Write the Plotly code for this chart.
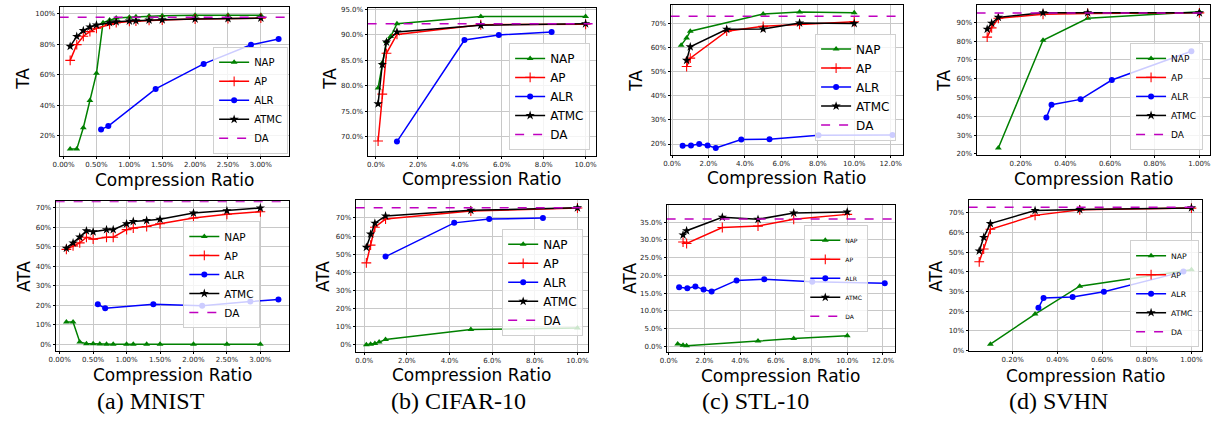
import plotly.graph_objects as go

W, H = 1213, 433

# ---------------- data (compression ratio in %, accuracy in %) ----------------
# MNIST
mn_nap_x = [0.1, 0.2, 0.3, 0.4, 0.5, 0.6, 0.7, 0.8, 1.0, 1.1, 1.3, 1.5, 2.0, 2.5, 3.0]
mn_nap_ta = [11.4, 11.4, 25.4, 43.2, 61.0, 94.2, 95.9, 97.3, 97.8, 98.0, 98.5, 98.7, 99.0, 99.1, 99.1]
mn_nap_ata = [11.4, 11.4, 1.2, 0.3, 0.3, 0.1, 0.0, 0.0, 0.0, 0.0, 0.0, 0.0, 0.0, 0.0, 0.0]
mn_x = [0.1, 0.2, 0.3, 0.4, 0.5, 0.7, 0.8, 1.0, 1.1, 1.3, 1.5, 2.0, 2.5, 3.0]
mn_ap_ta = [69.5, 79.8, 85.3, 88.3, 90.5, 93.1, 94.2, 95.0, 95.2, 95.7, 95.9, 96.6, 96.9, 97.2]
mn_atmc_ta = [78.7, 85.2, 89.0, 91.4, 92.7, 94.2, 94.8, 95.3, 95.5, 95.9, 96.1, 96.6, 96.9, 97.2]
mn_ap_ata = [48.7, 50.5, 52.0, 54.9, 53.9, 54.9, 54.9, 58.8, 59.6, 60.4, 61.8, 64.8, 66.7, 68.0]
mn_atmc_ata = [49.3, 52.0, 55.0, 58.2, 57.7, 58.8, 58.8, 61.8, 63.0, 63.5, 64.1, 67.3, 68.5, 69.9]
mn_alr_x = [0.57, 0.68, 1.40, 2.13, 2.85, 3.27]
mn_alr_ta = [24.3, 26.5, 50.8, 67.2, 79.7, 83.5]
mn_alr_ata = [20.5, 18.5, 20.5, 19.7, 21.9, 23.0]
mn_da_ta = 97.7
mn_da_ata = 73.2

# CIFAR-10
cf_nap_x = [0.1, 0.3, 0.5, 0.7, 1.0, 5.0, 10.0]
cf_nap_ta = [79.6, 84.5, 88.7, 89.7, 92.2, 93.6, 93.6]
cf_nap_ata = [0.0, 0.3, 0.8, 1.5, 2.9, 8.4, 9.3]
cf_x = [0.1, 0.3, 0.5, 1.0, 5.0, 10.0]
cf_ap_ta = [69.2, 78.4, 86.4, 90.1, 92.0, 92.1]
cf_atmc_ta = [76.5, 84.2, 88.6, 90.6, 91.9, 92.2]
cf_ap_ata = [45.2, 55.0, 64.9, 69.4, 73.8, 75.5]
cf_atmc_ata = [53.8, 61.1, 67.1, 71.1, 74.2, 75.6]
cf_alr_x = [1.0, 4.22, 5.86, 8.38]
cf_alr_ta = [69.1, 89.0, 90.0, 90.6]
cf_alr_ata = [48.7, 67.3, 69.4, 70.0]
cf_da_ta = 92.2
cf_da_ata = 75.7

# STL-10
st_nap_x = [0.5, 0.8, 1.0, 5.0, 7.0, 10.0]
st_nap_ta = [61.1, 64.1, 66.9, 74.0, 74.9, 74.6]
st_nap_ata = [0.7, 0.3, 0.2, 1.5, 2.2, 3.0]
st_x = [0.8, 1.0, 3.0, 5.0, 7.0, 10.0]
st_ap_ta = [52.2, 55.7, 66.9, 68.9, 69.7, 70.8]
st_atmc_ta = [54.8, 60.4, 67.7, 67.8, 70.3, 70.1]
st_ap_ata = [29.4, 29.0, 33.5, 33.9, 35.8, 37.2]
st_atmc_ata = [31.4, 32.6, 36.4, 35.8, 37.6, 37.9]
st_alr_x = [0.58, 1.04, 1.49, 1.95, 2.4, 3.8, 5.35, 8.04, 12.1]
st_alr_ta = [19.3, 19.4, 20.0, 19.4, 18.4, 21.9, 22.0, 23.6, 23.7]
st_alr_ata = [16.7, 16.4, 16.9, 16.0, 15.5, 18.6, 18.9, 18.2, 17.8]
st_da_ta = 73.1
st_da_ata = 35.9

# SVHN
sv_nap_x = [0.1, 0.3, 0.5, 1.0]
sv_nap_ta = [23.1, 80.4, 92.1, 95.6]
sv_nap_ata = [3.2, 18.5, 32.7, 41.1]
sv_x = [0.05, 0.07, 0.1, 0.3, 0.5, 1.0]
sv_ap_ta = [82.1, 87.0, 92.1, 94.2, 94.7, 95.0]
sv_atmc_ta = [86.3, 89.5, 92.6, 95.1, 95.1, 95.0]
sv_ap_ata = [45.1, 51.6, 61.6, 68.7, 71.5, 72.4]
sv_atmc_ata = [50.6, 57.5, 64.5, 71.2, 71.7, 72.5]
sv_alr_x = [0.315, 0.338, 0.468, 0.608, 0.964]
sv_alr_ta = [39.4, 46.2, 49.0, 59.3, 74.6]
sv_alr_ata = [21.7, 26.7, 27.2, 29.9, 40.1]
sv_da_ta = 94.9
sv_da_ata = 72.8

series_names = ["NAP", "AP", "ALR", "ATMC", "DA"]
captions = ["(a) MNIST", "(b) CIFAR-10", "(c) STL-10", "(d) SVHN"]

# ---------------- styling ----------------
COL = {"NAP": "#008000", "AP": "#ff0000", "ALR": "#0000ff", "ATMC": "#000000", "DA": "#bf00bf"}
MK = {
    "NAP": dict(symbol="triangle-up", size=6, color=COL["NAP"]),
    "AP": dict(symbol="cross-thin", size=7, color=COL["AP"], line=dict(width=1.1, color=COL["AP"])),
    "ALR": dict(symbol="circle", size=6, color=COL["ALR"]),
    "ATMC": dict(symbol="star", size=7, color=COL["ATMC"]),
}

panels = [
    # MNIST TA
    dict(box=(53, 5, 284, 156), xr=[-0.06, 3.43], yr=[7, 104.5], dx=0.5, xf=".2f", dy=20, yf="d",
         data={"NAP": (mn_nap_x, mn_nap_ta), "AP": (mn_x, mn_ap_ta), "ALR": (mn_alr_x, mn_alr_ta),
               "ATMC": (mn_x, mn_atmc_ta)}, da=mn_da_ta, ylab="TA", ylab_xy=(16, 78), xlab_y=180,
         leg=dict(x=283, y=154, xa="right", ya="bottom", fs=10)),
    # MNIST ATA
    dict(box=(49, 202, 284, 354), xr=[-0.06, 3.43], yr=[-3.5, 73.4], dx=0.5, xf=".2f", dy=10, yf="d",
         data={"NAP": (mn_nap_x, mn_nap_ata), "AP": (mn_x, mn_ap_ata), "ALR": (mn_alr_x, mn_alr_ata),
               "ATMC": (mn_x, mn_atmc_ata)}, da=mn_da_ata, ylab="ATA", ylab_xy=(17, 278), xlab_y=378,
         leg=dict(x=255, y=222, xa="right", ya="top", fs=10.5)),
    # CIFAR TA
    dict(box=(363, 6, 593, 156), xr=[-0.4, 10.5], yr=[66.3, 95.3], dx=2, xf=".1f", dy=5, yf=".1f",
         data={"NAP": (cf_nap_x, cf_nap_ta), "AP": (cf_x, cf_ap_ta), "ALR": (cf_alr_x, cf_alr_ta),
               "ATMC": (cf_x, cf_atmc_ta)}, da=cf_da_ta, ylab="TA", ylab_xy=(325, 78), xlab_y=179,
         leg=dict(x=587, y=150, xa="right", ya="bottom", fs=12)),
    # CIFAR ATA
    dict(box=(351, 201, 585, 355), xr=[-0.4, 10.5], yr=[-4, 79.8], dx=2, xf=".1f", dy=10, yf="d",
         data={"NAP": (cf_nap_x, cf_nap_ata), "AP": (cf_x, cf_ap_ata), "ALR": (cf_alr_x, cf_alr_ata),
               "ATMC": (cf_x, cf_atmc_ata)}, da=cf_da_ata, ylab="ATA", ylab_xy=(318, 278), xlab_y=378,
         leg=dict(x=580, y=230, xa="right", ya="top", fs=12)),
    # STL TA
    dict(box=(668, 3, 902, 155), xr=[-0.08, 12.68], yr=[15.5, 77.8], dx=2, xf=".1f", dy=10, yf="d",
         data={"NAP": (st_nap_x, st_nap_ta), "AP": (st_x, st_ap_ta), "ALR": (st_alr_x, st_alr_ta),
               "ATMC": (st_x, st_atmc_ta)}, da=st_da_ta, ylab="TA", ylab_xy=(633, 80), xlab_y=178,
         leg=dict(x=895, y=32, xa="right", ya="top", fs=12)),
    # STL ATA
    dict(box=(664, 206, 894, 355), xr=[-0.12, 12.68], yr=[-1.6, 39.8], dx=2, xf=".1f", dy=5, yf=".1f",
         data={"NAP": (st_nap_x, st_nap_ata), "AP": (st_x, st_ap_ata), "ALR": (st_alr_x, st_alr_ata),
               "ATMC": (st_x, st_atmc_ata)}, da=st_da_ata, ylab="ATA", ylab_xy=(627, 280), xlab_y=379,
         leg=dict(x=867, y=226, xa="right", ya="top", fs=6)),
    # SVHN TA
    dict(box=(976, 3, 1211, 155), xr=[0.0025, 1.0475], yr=[19.5, 99.2], dx=0.2, xf=".2f", dy=10, yf="d",
         data={"NAP": (sv_nap_x, sv_nap_ta), "AP": (sv_x, sv_ap_ta), "ALR": (sv_alr_x, sv_alr_ta),
               "ATMC": (sv_x, sv_atmc_ta)}, da=sv_da_ta, ylab="TA", ylab_xy=(943, 80), xlab_y=179,
         leg=dict(x=1204, y=150, xa="right", ya="bottom", fs=9)),
    # SVHN ATA
    dict(box=(968, 201, 1203, 354), xr=[0.0025, 1.0475], yr=[-0.3, 76.4], dx=0.2, xf=".2f", dy=10, yf="d",
         data={"NAP": (sv_nap_x, sv_nap_ata), "AP": (sv_x, sv_ap_ata), "ALR": (sv_alr_x, sv_alr_ata),
               "ATMC": (sv_x, sv_atmc_ata)}, da=sv_da_ata, ylab="ATA", ylab_xy=(935, 278), xlab_y=379,
         leg=dict(x=1200, y=350, xa="right", ya="bottom", fs=7.7)),
]

caption_x = [145, 455, 753, 1058]
caption_y = 405

fig = go.Figure()
layout = dict(
    width=W, height=H, margin=dict(l=0, r=0, t=0, b=0),
    paper_bgcolor="white", plot_bgcolor="white", showlegend=True,
    font=dict(family="DejaVu Sans", color="black"),
)
annotations = []

TICKFONT = dict(family="DejaVu Sans", size=7, color="#222222")

for i, p in enumerate(panels, start=1):
    sfx = "" if i == 1 else str(i)
    xa, ya = "x" + sfx, "y" + sfx
    legname = "legend" + sfx
    x0, y0, x1, y1 = p["box"]
    axis_common = dict(
        showline=True, mirror=True, linecolor="black", linewidth=1,
        showgrid=True, gridcolor="#c8c8c8", gridwidth=1.2, zeroline=False,
        ticks="outside", ticklen=2, tickcolor="black", tickwidth=1,
        tickfont=TICKFONT, ticksuffix="%", tickmode="linear", tick0=0,
    )
    layout["xaxis" + sfx] = dict(axis_common, domain=[x0 / W, x1 / W], range=p["xr"],
                                 dtick=p["dx"], tickformat=p["xf"], anchor=ya)
    layout["yaxis" + sfx] = dict(axis_common, domain=[1 - y1 / H, 1 - y0 / H], range=p["yr"],
                                 dtick=p["dy"], tickformat=p["yf"], anchor=xa)
    for name in ["NAP", "AP", "ALR", "ATMC"]:
        xs, ys = p["data"][name]
        fig.add_trace(go.Scatter(
            x=xs, y=ys, name=name, mode="lines+markers", xaxis=xa, yaxis=ya,
            line=dict(color=COL[name], width=1.5), marker=MK[name], legend=legname,
        ))
    fig.add_trace(go.Scatter(
        x=p["xr"], y=[p["da"], p["da"]], name="DA", mode="lines", xaxis=xa, yaxis=ya,
        line=dict(color=COL["DA"], width=1.5, dash="dash"), legend=legname,
    ))
    lg = p["leg"]
    layout[legname] = dict(
        x=lg["x"] / W, y=1 - lg["y"] / H, xanchor=lg["xa"], yanchor=lg["ya"],
        xref="paper", yref="paper",
        bgcolor="rgba(255,255,255,0.8)", bordercolor="#d0d0d0", borderwidth=1,
        font=dict(family="DejaVu Sans", size=lg["fs"], color="black"),
        itemwidth=30, tracegroupgap=0,
    )
    # axis titles
    lx, ly = p["ylab_xy"]
    annotations.append(dict(text=p["ylab"], x=lx / W, y=1 - ly / H, xref="paper", yref="paper",
                            xanchor="center", yanchor="middle", textangle=-90, showarrow=False,
                            font=dict(family="DejaVu Sans", size=17, color="black")))
    annotations.append(dict(text="Compression Ratio", x=(x0 + x1) / 2 / W, y=1 - p["xlab_y"] / H,
                            xref="paper", yref="paper", xanchor="center", yanchor="middle",
                            showarrow=False, font=dict(family="DejaVu Sans", size=17, color="black")))

for cap, cx in zip(captions, caption_x):
    annotations.append(dict(text=cap, x=cx / W, y=1 - caption_y / H, xref="paper", yref="paper",
                            xanchor="center", yanchor="middle", showarrow=False,
                            font=dict(family="Liberation Serif", size=24, color="black")))

layout["annotations"] = annotations
fig.update_layout(**layout)
fig.write_html("out.html")
